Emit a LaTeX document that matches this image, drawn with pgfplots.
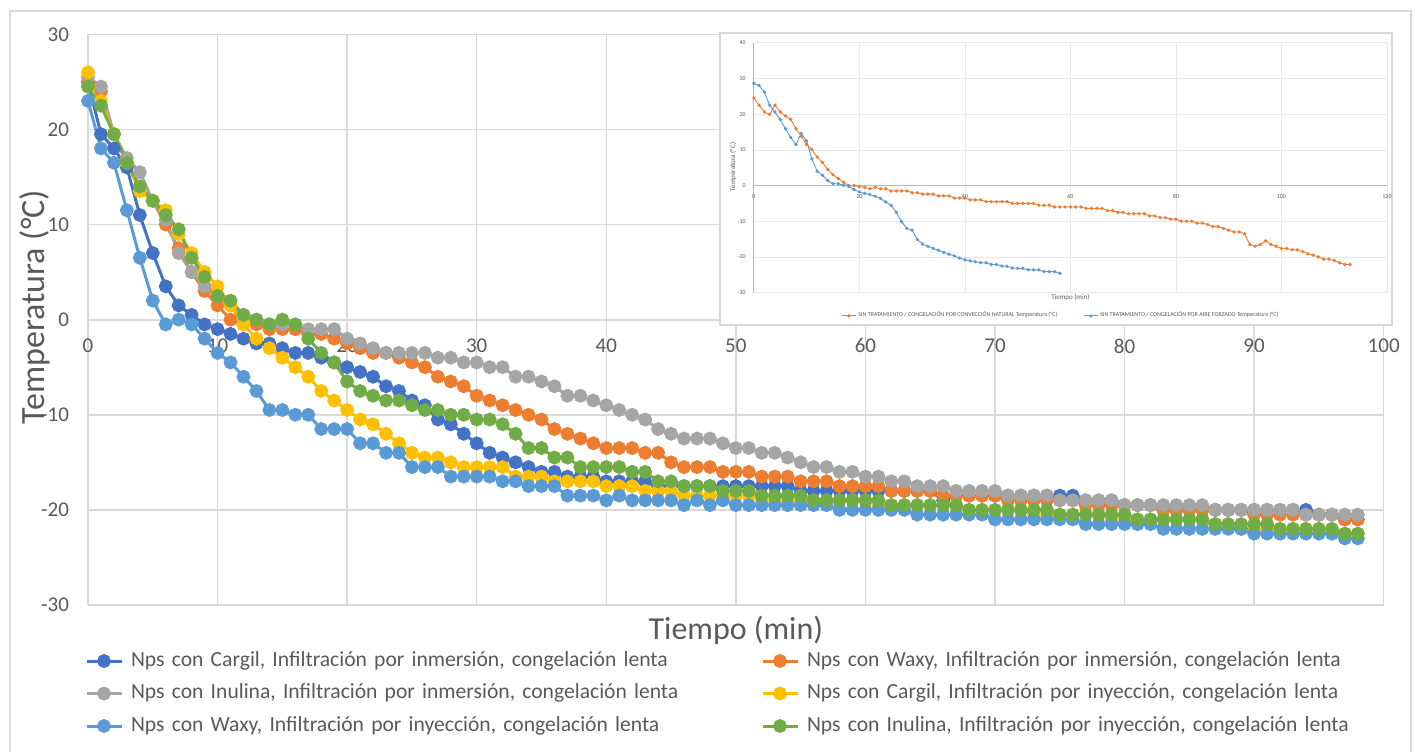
\documentclass[border=0pt]{standalone}
\usepackage{pgfplots}
\pgfplotsset{compat=1.18}
\usepackage{fontspec}
\setmainfont{Carlito}
\definecolor{cA}{HTML}{4472C4}
\definecolor{cB}{HTML}{ED7D31}
\definecolor{cC}{HTML}{A5A5A5}
\definecolor{cD}{HTML}{FFC000}
\definecolor{cE}{HTML}{5B9BD5}
\definecolor{cF}{HTML}{70AD47}
\definecolor{gridc}{HTML}{D9D9D9}
\definecolor{txtc}{HTML}{595959}
\pgfplotsset{
  ser/.style={color=#1, mark=*, mark size=2.7pt, line width=1.5pt, mark options={solid,fill=#1,draw=#1}},
  iser/.style={color=#1, mark=*, mark size=0.6pt, line width=0.45pt, mark options={solid,fill=#1,draw=#1}},
}
\begin{document}
\begin{tikzpicture}
\useasboundingbox (-44pt,-73pt) rectangle (663.5pt,302.5pt);
\draw[gridc, line width=0.75pt] (-39pt,-80pt) -- (-39pt,297pt) -- (661.5pt,297pt) -- (661.5pt,-80pt);
\begin{axis}[
  at={(0pt,0pt)}, anchor=south west,
  width=647.85pt, height=285.35pt, scale only axis,
  xmin=0, xmax=100, ymin=-30, ymax=30,
  xtick={0,10,...,100}, ytick={-30,-20,...,30},
  axis x line=middle, axis y line=left,
  hide obscured x ticks=false, hide obscured y ticks=false,
  axis line style={-, draw=gridc, line width=0.9pt},
  grid=major, major grid style={draw=gridc, line width=0.75pt},
  major tick length=0pt,
  clip=false,
  /pgf/number format/assume math mode=true,
  ticklabel style={font=\fontsize{10.5}{12}\selectfont, text=txtc},
  xticklabel style={yshift=-6pt},
  yticklabel style={xshift=-6pt},
  xlabel={Tiempo (min)}, ylabel={Temperatura (°C)},
  every axis x label/.style={at={(axis description cs:0.5,-0.0438)}, anchor=center, font=\fontsize{16}{18}\selectfont, text=txtc},
  every axis y label/.style={at={(axis description cs:-0.0409,0.5222)}, rotate=90, anchor=center, font=\fontsize{17}{19}\selectfont, text=txtc},
  legend columns=2,
  legend style={at={(axis description cs:-0.0023,-0.0824)}, anchor=north west, draw=none, fill=none, inner sep=0pt, outer sep=0pt,
    font=\fontsize{10.8}{12}\selectfont, text=txtc, row sep=7.25pt,
    nodes={inner ysep=0pt, inner xsep=4pt, text height=7pt, text depth=2pt, text width=311pt, align=left}},
  legend cell align=left,
  legend image code/.code={\draw[#1,mark=none] (0pt,0pt) -- (17.5pt,0pt); \draw[#1,only marks] plot coordinates {(8.75pt,0pt)};},
]
\addplot[ser=cA] coordinates {(0,25)(1,19.5)(2,18)(3,16)(4,11)(5,7)(6,3.5)(7,1.5)(8,0.5)(9,-0.5)(10,-1)(11,-1.5)(12,-2)(13,-2.5)(14,-2.5)(15,-3)(16,-3.5)(17,-3.5)(18,-4)(19,-4.5)(20,-5)(21,-5.5)(22,-6)(23,-7)(24,-7.5)(25,-8.5)(26,-9)(27,-10.5)(28,-11)(29,-12)(30,-13)(31,-14)(32,-14.5)(33,-15)(34,-15.5)(35,-16)(36,-16)(37,-16.5)(38,-16.5)(39,-16.5)(40,-17)(41,-17)(42,-17)(43,-17)(44,-17.5)(45,-17.5)(46,-17.5)(47,-17.5)(48,-17.5)(49,-17.5)(50,-17.5)(51,-17.5)(52,-17.5)(53,-17.5)(54,-17.5)(55,-18)(56,-18)(57,-18)(58,-18)(59,-18)(60,-18)(61,-18)(62,-18)(63,-18)(64,-18)(65,-18)(66,-19)(67,-18.5)(68,-18.5)(69,-18.5)(70,-18.5)(71,-18.5)(72,-18.5)(73,-18.5)(74,-18.5)(75,-18.5)(76,-18.5)(77,-19)(78,-19)(79,-19)(80,-19.5)(81,-19.5)(82,-19.5)(83,-20)(84,-20)(85,-20)(86,-20)(87,-20)(88,-20)(89,-20)(90,-20)(91,-20)(92,-20)(93,-20)(94,-20)(95,-20.5)(96,-20.5)(97,-21)(98,-21)};
\addlegendentry{Nps con Cargil, Infiltración por inmersión, congelación lenta}
\addplot[ser=cB] coordinates {(0,25)(1,24)(2,19.5)(3,16.5)(4,14)(5,12.5)(6,10)(7,7.5)(8,5)(9,3)(10,1.5)(11,0)(12,-0.5)(13,-0.5)(14,-1)(15,-1)(16,-1)(17,-1.5)(18,-1.5)(19,-2)(20,-2.5)(21,-3)(22,-3.5)(23,-3.5)(24,-4)(25,-4.5)(26,-5)(27,-6)(28,-6.5)(29,-7)(30,-8)(31,-8.5)(32,-9)(33,-9.5)(34,-10)(35,-10.5)(36,-11.5)(37,-12)(38,-12.5)(39,-13)(40,-13.5)(41,-13.5)(42,-13.5)(43,-14)(44,-14)(45,-15)(46,-15.5)(47,-15.5)(48,-15.5)(49,-16)(50,-16)(51,-16)(52,-16.5)(53,-16.5)(54,-16.5)(55,-17)(56,-17)(57,-17)(58,-17.5)(59,-17.5)(60,-17.5)(61,-17.5)(62,-18)(63,-18)(64,-18)(65,-18)(66,-18.5)(67,-18.5)(68,-18.5)(69,-18.5)(70,-18.5)(71,-19)(72,-19)(73,-19)(74,-19)(75,-19)(76,-19)(77,-19.5)(78,-19.5)(79,-19.5)(80,-19.5)(81,-19.5)(82,-19.5)(83,-20)(84,-20)(85,-20)(86,-20)(87,-20)(88,-20)(89,-20)(90,-20.5)(91,-20.5)(92,-20.5)(93,-20.5)(94,-20.5)(95,-20.5)(96,-20.5)(97,-21)(98,-21)};
\addlegendentry{Nps con Waxy, Infiltración por inmersión, congelación lenta}
\addplot[ser=cC] coordinates {(0,25.5)(1,24.5)(2,19.5)(3,17)(4,15.5)(5,12.5)(6,10.5)(7,7)(8,5)(9,3.5)(10,2.5)(11,1.5)(12,0.5)(13,0)(14,-0.5)(15,-0.5)(16,-0.5)(17,-1)(18,-1)(19,-1)(20,-2)(21,-2.5)(22,-3)(23,-3.5)(24,-3.5)(25,-3.5)(26,-3.5)(27,-4)(28,-4)(29,-4.5)(30,-4.5)(31,-5)(32,-5)(33,-6)(34,-6)(35,-6.5)(36,-7)(37,-8)(38,-8)(39,-8.5)(40,-9)(41,-9.5)(42,-10)(43,-10.5)(44,-11.5)(45,-12)(46,-12.5)(47,-12.5)(48,-12.5)(49,-13)(50,-13.5)(51,-13.5)(52,-14)(53,-14)(54,-14.5)(55,-15)(56,-15.5)(57,-15.5)(58,-16)(59,-16)(60,-16.5)(61,-16.5)(62,-17)(63,-17)(64,-17.5)(65,-17.5)(66,-17.5)(67,-18)(68,-18)(69,-18)(70,-18)(71,-18.5)(72,-18.5)(73,-18.5)(74,-18.5)(75,-19)(76,-19)(77,-19)(78,-19)(79,-19)(80,-19.5)(81,-19.5)(82,-19.5)(83,-19.5)(84,-19.5)(85,-19.5)(86,-19.5)(87,-20)(88,-20)(89,-20)(90,-20)(91,-20)(92,-20)(93,-20)(94,-20.5)(95,-20.5)(96,-20.5)(97,-20.5)(98,-20.5)};
\addlegendentry{Nps con Inulina, Infiltración por inmersión, congelación lenta}
\addplot[ser=cD] coordinates {(0,26)(1,23)(2,19.5)(3,16.5)(4,13.5)(5,12.5)(6,11.5)(7,9)(8,7)(9,5)(10,3.5)(11,1.5)(12,-0.5)(13,-2)(14,-3)(15,-4)(16,-5)(17,-6)(18,-7.5)(19,-8.5)(20,-9.5)(21,-10.5)(22,-11)(23,-12)(24,-13)(25,-14)(26,-14.5)(27,-14.5)(28,-15)(29,-15.5)(30,-15.5)(31,-15.5)(32,-15.5)(33,-16.5)(34,-16.5)(35,-16.5)(36,-17)(37,-17)(38,-17)(39,-17)(40,-17.5)(41,-17.5)(42,-17.5)(43,-18)(44,-18)(45,-18)(46,-18.5)(47,-18.5)(48,-18.5)(49,-18.5)(50,-18.5)(51,-18.5)(52,-19)(53,-19)(54,-19)(55,-19)(56,-19)(57,-19)(58,-19)(59,-19)(60,-19)(61,-19.5)(62,-19.5)(63,-19.5)(64,-19.5)(65,-19.5)(66,-19.5)(67,-19.5)(68,-20)(69,-20)(70,-20)(71,-20)(72,-20)(73,-20.5)(74,-20.5)(75,-20.5)(76,-20.5)(77,-20.5)(78,-20.5)(79,-21)(80,-21)(81,-21)(82,-21)(83,-21)(84,-21)(85,-21)(86,-21)(87,-21.5)(88,-21.5)(89,-22)(90,-22)(91,-22)(92,-22)(93,-22)(94,-22)(95,-22)(96,-22)(97,-22.5)(98,-22.5)};
\addlegendentry{Nps con Cargil, Infiltración por inyección, congelación lenta}
\addplot[ser=cE] coordinates {(0,23)(1,18)(2,16.5)(3,11.5)(4,6.5)(5,2)(6,-0.5)(7,0)(8,-0.5)(9,-2)(10,-3.5)(11,-4.5)(12,-6)(13,-7.5)(14,-9.5)(15,-9.5)(16,-10)(17,-10)(18,-11.5)(19,-11.5)(20,-11.5)(21,-13)(22,-13)(23,-14)(24,-14)(25,-15.5)(26,-15.5)(27,-15.5)(28,-16.5)(29,-16.5)(30,-16.5)(31,-16.5)(32,-17)(33,-17)(34,-17.5)(35,-17.5)(36,-17.5)(37,-18.5)(38,-18.5)(39,-18.5)(40,-19)(41,-18.5)(42,-19)(43,-19)(44,-19)(45,-19)(46,-19.5)(47,-19)(48,-19.5)(49,-19)(50,-19.5)(51,-19.5)(52,-19.5)(53,-19.5)(54,-19.5)(55,-19.5)(56,-19.5)(57,-19.5)(58,-20)(59,-20)(60,-20)(61,-20)(62,-20)(63,-20)(64,-20.5)(65,-20.5)(66,-20.5)(67,-20.5)(68,-20.5)(69,-20.5)(70,-21)(71,-21)(72,-21)(73,-21)(74,-21)(75,-21)(76,-21)(77,-21.5)(78,-21.5)(79,-21.5)(80,-21.5)(81,-21.5)(82,-21.5)(83,-22)(84,-22)(85,-22)(86,-22)(87,-22)(88,-22)(89,-22)(90,-22.5)(91,-22.5)(92,-22.5)(93,-22.5)(94,-22.5)(95,-22.5)(96,-22.5)(97,-23)(98,-23)};
\addlegendentry{Nps con Waxy, Infiltración por inyección, congelación lenta}
\addplot[ser=cF] coordinates {(0,24.5)(1,22.5)(2,19.5)(3,16.5)(4,14)(5,12.5)(6,11)(7,9.5)(8,6.5)(9,4.5)(10,2.5)(11,2)(12,0.5)(13,0)(14,-0.5)(15,0)(16,-0.5)(17,-2)(18,-3.5)(19,-4.5)(20,-6.5)(21,-7.5)(22,-8)(23,-8.5)(24,-8.5)(25,-9)(26,-9.5)(27,-9.5)(28,-10)(29,-10)(30,-10.5)(31,-10.5)(32,-11)(33,-12)(34,-13.5)(35,-13.5)(36,-14.5)(37,-14.5)(38,-15.5)(39,-15.5)(40,-15.5)(41,-15.5)(42,-16)(43,-16)(44,-17)(45,-17)(46,-17.5)(47,-17.5)(48,-17.5)(49,-18)(50,-18)(51,-18)(52,-18.5)(53,-18.5)(54,-18.5)(55,-18.5)(56,-19)(57,-19)(58,-19)(59,-19)(60,-19)(61,-19)(62,-19.5)(63,-19.5)(64,-19.5)(65,-19.5)(66,-19.5)(67,-19.5)(68,-20)(69,-20)(70,-20)(71,-20)(72,-20)(73,-20)(74,-20)(75,-20.5)(76,-20.5)(77,-20.5)(78,-20.5)(79,-20.5)(80,-20.5)(81,-21)(82,-21)(83,-21)(84,-21)(85,-21)(86,-21)(87,-21.5)(88,-21.5)(89,-21.5)(90,-21.5)(91,-21.5)(92,-22)(93,-22)(94,-22)(95,-22)(96,-22)(97,-22.5)(98,-22.5)};
\addlegendentry{Nps con Inulina, Infiltración por inyección, congelación lenta}
\end{axis}
\draw[draw=gridc, fill=white, line width=0.6pt] (316pt,140pt) rectangle (652pt,286pt);
\begin{axis}[
  at={(332.9pt,156.15pt)}, anchor=south west,
  width=316.6pt, height=125pt, scale only axis,
  xmin=0, xmax=120, ymin=-30, ymax=40,
  xtick={0,20,...,120}, ytick={-30,-20,...,40},
  axis x line=middle, axis y line=left,
  hide obscured x ticks=false, hide obscured y ticks=false,
  axis line style={-, draw=gray!55, line width=0.4pt},
  grid=major, major grid style={draw=gray!18, line width=0.35pt},
  major tick length=0pt,
  clip=false,
  /pgf/number format/assume math mode=true,
  ticklabel style={font=\fontsize{3}{3.5}\selectfont, text=txtc},
  xticklabel style={yshift=-1pt},
  yticklabel style={xshift=-0.5pt},
  xlabel={Tiempo (min)}, ylabel={Temperatura (°C)},
  every axis x label/.style={at={(axis description cs:0.5,-0.021)}, anchor=center, font=\fontsize{3.5}{4}\selectfont, text=txtc},
  every axis y label/.style={at={(axis description cs:-0.0328,0.503)}, rotate=90, anchor=center, font=\fontsize{3.5}{4}\selectfont, text=txtc},
  legend columns=2,
  legend style={at={(axis description cs:0.485,-0.093)}, anchor=center, draw=none, fill=none, inner sep=0pt,
    font=\fontsize{3}{3.5}\selectfont, text=txtc,
    nodes={inner ysep=0pt, inner xsep=1pt},
    /tikz/every even column/.append style={column sep=12pt}},
  legend image code/.code={\draw[#1,mark=none] (0pt,0pt) -- (7pt,0pt); \draw[#1,only marks] plot coordinates {(3.5pt,0pt)};},
]
\addplot[iser=cB] coordinates {(0,24.5)(1,22.5)(2,20.6)(3,19.9)(4,22.5)(5,20.6)(6,19.5)(7,18.5)(8,15.9)(9,13.8)(10,11.5)(11,10.1)(12,8.0)(13,6.5)(14,4.5)(15,3.0)(16,2.0)(17,0.9)(18,0)(19,0)(20,-0.3)(21,-0.5)(22,-0.9)(23,-0.5)(24,-0.9)(25,-0.9)(26,-1.5)(27,-1.5)(28,-1.5)(29,-1.5)(30,-2.0)(31,-2.0)(32,-2.4)(33,-2.4)(34,-2.4)(35,-2.9)(36,-2.9)(37,-2.9)(38,-3.5)(39,-3.5)(40,-3.5)(41,-4.0)(42,-4.0)(43,-4.0)(44,-4.5)(45,-4.5)(46,-4.5)(47,-4.5)(48,-4.5)(49,-5.0)(50,-5.0)(51,-5.0)(52,-5.0)(53,-5.0)(54,-5.5)(55,-5.5)(56,-5.5)(57,-6.0)(58,-6.0)(59,-6.0)(60,-6.0)(61,-6.0)(62,-6.0)(63,-6.4)(64,-6.4)(65,-6.4)(66,-6.4)(67,-7.0)(68,-7.0)(69,-7.5)(70,-7.5)(71,-7.9)(72,-7.9)(73,-7.9)(74,-7.9)(75,-8.5)(76,-8.5)(77,-9.0)(78,-9.0)(79,-9.4)(80,-9.4)(81,-10.0)(82,-10.0)(83,-10.0)(84,-10.5)(85,-10.5)(86,-10.9)(87,-11.5)(88,-11.5)(89,-12.0)(90,-12.5)(91,-13.0)(92,-13.0)(93,-13.5)(94,-16.5)(95,-17.0)(96,-16.5)(97,-15.5)(98,-16.5)(99,-17.0)(100,-17.6)(101,-17.6)(102,-18.0)(103,-18.0)(104,-18.5)(105,-19.1)(106,-19.5)(107,-20.0)(108,-20.6)(109,-20.6)(110,-21.0)(111,-21.6)(112,-22.1)(113,-22.1)};
\addlegendentry{SIN TRATAMIENTO / CONGELACIÓN POR CONVECCIÓN NATURAL Temperatura (°C)}
\addplot[iser=cE] coordinates {(0,28.6)(1,28)(2,26.2)(3,22.5)(4,20.6)(5,18.5)(6,15.9)(7,13.5)(8,11.5)(9,14.6)(10,12.5)(11,7.5)(12,4.0)(13,2.9)(14,1.4)(15,0.5)(16,0.5)(17,0.1)(18,-0.2)(19,-1.1)(20,-1.8)(21,-2.2)(22,-2.5)(23,-3.0)(24,-3.6)(25,-4.6)(26,-5.5)(27,-7.5)(28,-10.1)(29,-12.0)(30,-12.5)(31,-15.1)(32,-16.4)(33,-17.0)(34,-17.6)(35,-18.1)(36,-18.7)(37,-19.2)(38,-19.7)(39,-20.3)(40,-20.8)(41,-21.1)(42,-21.3)(43,-21.6)(44,-21.6)(45,-22.1)(46,-22.1)(47,-22.5)(48,-22.6)(49,-23.1)(50,-23.2)(51,-23.2)(52,-23.6)(53,-23.6)(54,-23.6)(55,-24.1)(56,-24.1)(57,-24.1)(58,-24.6)};
\addlegendentry{SIN TRATAMIENTO / CONGELACIÓN POR AIRE FORZADO Temperatura (°C)}
\end{axis}
\end{tikzpicture}
\end{document}
